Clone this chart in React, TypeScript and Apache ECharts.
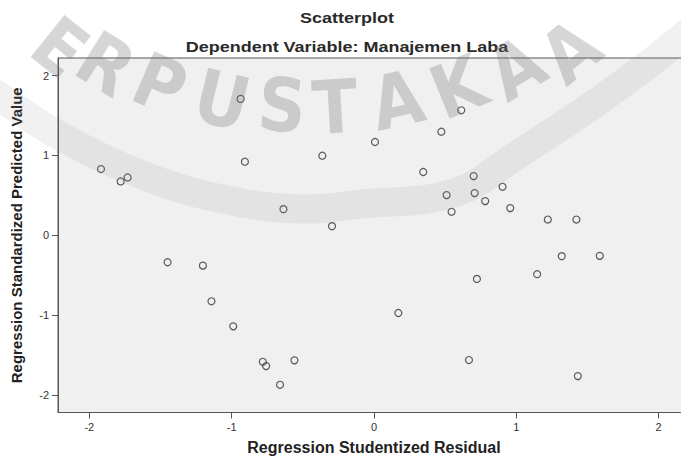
import React, { useEffect, useRef } from "react";
import * as echarts from "echarts";

// Regression Studentized Residual (x) and Regression Standardized Predicted Value (y)
const studentizedResidual = [
  -0.937, -1.918, -1.731, -1.78, -0.907, -0.363, 0.007, -0.636, -0.295, -1.45,
  0.613, 0.473, 0.346, 0.7, 0.903, 0.51, 0.707, 0.781, 0.957, 0.545,
  1.221, 1.422, 1.319, 1.586, -1.202, -1.142, -0.989, -0.781, -0.758, -0.559,
  -0.66, 0.723, 1.146, 0.171, 0.667, 1.432,
];
const standardizedPredicted = [
  1.708, 0.829, 0.724, 0.674, 0.921, 0.996, 1.168, 0.327, 0.114, -0.338,
  1.565, 1.297, 0.792, 0.741, 0.607, 0.503, 0.528, 0.428, 0.34, 0.294,
  0.197, 0.197, -0.262, -0.258, -0.38, -0.827, -1.141, -1.585, -1.639, -1.567,
  -1.873, -0.547, -0.488, -0.974, -1.563, -1.764,
];
const tickValues = [-2, -1, 0, 1, 2];

const chartTitle = "Scatterplot";
const chartSubtitle = "Dependent Variable: Manajemen Laba";
const xAxisTitle = "Regression Studentized Residual";
const yAxisTitle = "Regression Standardized Predicted Value";

// watermark decoration
const watermarkLetters = ["E", "R", "P", "U", "S", "T", "A", "K", "A", "A"];
const watermarkX = [60, 106, 160, 222, 282, 335, 397, 458, 516, 570];
const watermarkY = [47, 64, 84, 100, 105, 107, 100, 87, 68, 51];
const bandX = [-30, 0, 60, 150, 227, 300, 360, 454, 520, 590, 654, 681, 710];
const bandY = [78, 97, 136, 178, 200, 209, 204, 193, 153, 107, 60, 38, 15];

const FONT = "Liberation Sans, Arial, sans-serif";

export default function App() {
  const ref = useRef<HTMLDivElement>(null);

  useEffect(() => {
    if (!ref.current) return;
    const chart = echarts.init(ref.current, null, { renderer: "svg" });
    const data = studentizedResidual.map((x, i) => [x, standardizedPredicted[i]]);
    const cx = 313;
    const cy = -270;
    const letters = watermarkLetters.map((ch, i) => {
      const x = watermarkX[i];
      const y = watermarkY[i];
      const ang = Math.atan2(cx - x, y - cy);
      return {
        type: "text",
        x,
        y,
        rotation: -ang,
        z: 100,
        silent: true,
        style: {
          text: ch,
          fontSize: 74,
          fontWeight: "bold",
          fontFamily: "Liberation Sans Narrow, DejaVu Sans Condensed, sans-serif",
          fill: "rgba(120,120,120,0.3)",
          align: "center",
          verticalAlign: "middle",
        },
      };
    });
    const band = {
      type: "polyline",
      z: 99,
      silent: true,
      shape: { points: bandX.map((x, i) => [x, bandY[i]]), smooth: 0.4 },
      style: { stroke: "rgba(140,140,140,0.12)", lineWidth: 29, fill: "none" },
    };
    const titleTexts = [
      { text: chartTitle, y: 17.5 },
      { text: chartSubtitle, y: 47 },
    ].map((t) => ({
      type: "text",
      x: 347,
      y: t.y,
      scaleX: 1.16,
      z: 50,
      style: {
        text: t.text,
        fontSize: 15.5,
        fontWeight: "bold",
        fontFamily: FONT,
        fill: "#2a2a2a",
        align: "center",
        verticalAlign: "middle",
      },
    }));
    const axisCommon = {
      type: "value",
      min: -2.22,
      max: 2.22,
      splitLine: { show: false },
      axisLine: { show: true, onZero: false, lineStyle: { color: "#555", width: 1 } },
      axisTick: {
        show: true,
        length: 6,
        customValues: tickValues,
        lineStyle: { color: "#555", width: 1 },
      },
    };
    const labelStyle = {
      customValues: tickValues,
      margin: 9,
      fontSize: 11,
      color: "#333",
      fontFamily: FONT,
    };
    chart.setOption({
      animation: false,
      backgroundColor: "#ffffff",
      grid: {
        left: 58,
        right: -9,
        top: 58,
        bottom: 45.5,
        outerBoundsMode: "none",
        containLabel: false,
        show: true,
        backgroundColor: "#f0f0f0",
        borderColor: "#555",
        borderWidth: 1,
      },
      xAxis: {
        ...axisCommon,
        name: xAxisTitle,
        nameLocation: "middle",
        nameGap: 27,
        nameTextStyle: { fontFamily: FONT, fontWeight: "bold", color: "#222", fontSize: 16 },
        axisLabel: labelStyle,
      },
      yAxis: {
        ...axisCommon,
        name: yAxisTitle,
        nameLocation: "middle",
        nameGap: 34,
        nameTextStyle: { fontFamily: FONT, fontWeight: "bold", color: "#222", fontSize: 15 },
        axisLabel: labelStyle,
      },
      series: [
        {
          type: "scatter",
          data,
          symbol: "circle",
          symbolSize: 7,
          itemStyle: { color: "rgba(0,0,0,0)", borderColor: "#333", borderWidth: 1.2 },
          emphasis: { disabled: true },
        },
      ],
      graphic: [...titleTexts, band, ...letters],
    });
    return () => chart.dispose();
  }, []);

  return <div ref={ref} style={{ width: 681, height: 458, position: "fixed", left: 0, top: 0 }} />;
}
